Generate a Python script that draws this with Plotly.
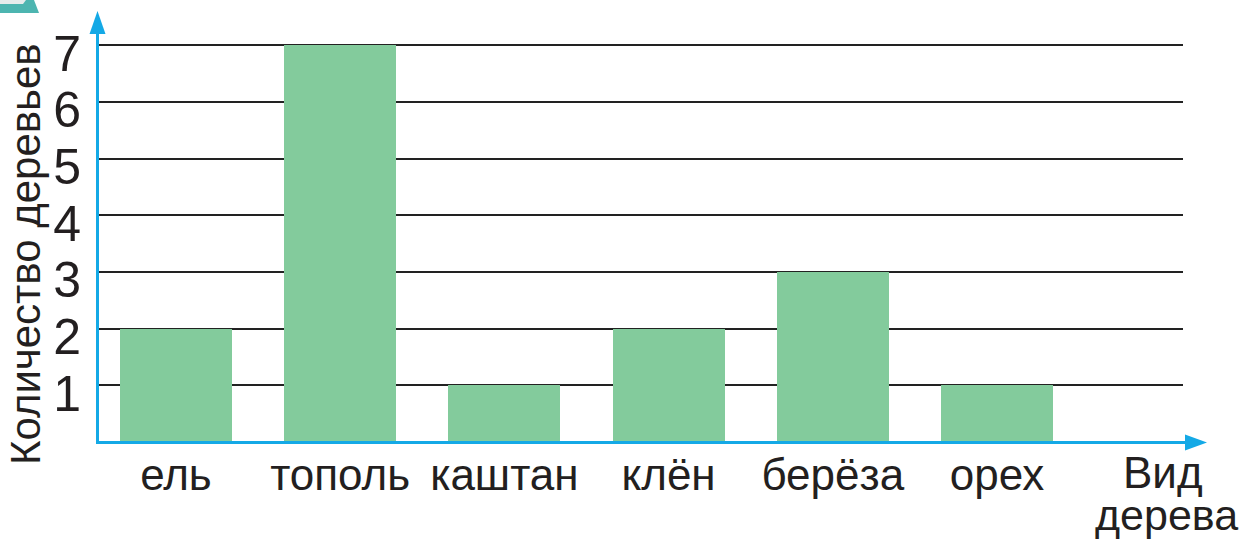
import plotly.graph_objects as go

# Tree survey: number of trees of each kind
tree_kinds = ["ель", "тополь", "каштан", "клён", "берёза", "орех"]
tree_counts = [2, 7, 1, 2, 3, 1]
y_ticks = [1, 2, 3, 4, 5, 6, 7]

BAR_COLOR = "#83CB9C"
AXIS_BLUE = "#14A9E6"
TEXT = "#231F20"
FONT = "Liberation Sans, Arial, sans-serif"

W, H = 1240, 542
L, R, T, B = 97, 57, 12, 100
PW, PH = W - L - R, H - T - B


def px(x):
    return (x - L) / PW


def py(y):
    return (H - B - y) / PH


fig = go.Figure(
    go.Bar(
        x=tree_kinds,
        y=tree_counts,
        width=0.682,
        marker=dict(color=BAR_COLOR, line=dict(width=0)),
        hoverinfo="skip",
    )
)

shapes = [
    # small teal tab in the corner
    dict(type="path", xref="paper", yref="paper",
         path=f"M {px(0)} {py(0)} L {px(34)} {py(0)} L {px(39)} {py(13)} L {px(0)} {py(13)} Z",
         fillcolor="#4DB5B0", line=dict(width=0), layer="above"),
    dict(type="path", xref="paper", yref="paper",
         path=f"M {px(0)} {py(0)} L {px(26)} {py(0)} L {px(23)} {py(4)} L {px(0)} {py(4)} Z",
         fillcolor="#E6ECEC", line=dict(width=0), layer="above"),
    # vertical axis with arrow
    dict(type="line", xref="paper", yref="paper",
         x0=px(97.5), x1=px(97.5), y0=py(443.5), y1=py(30),
         line=dict(color=AXIS_BLUE, width=3), layer="above"),
    dict(type="path", xref="paper", yref="paper",
         path=f"M {px(97.5)} {py(11)} L {px(105.5)} {py(34)} L {px(89.5)} {py(34)} Z",
         fillcolor=AXIS_BLUE, line=dict(width=0), layer="above"),
    # horizontal axis with arrow
    dict(type="line", xref="paper", yref="paper",
         x0=px(96), x1=px(1190), y0=py(442.5), y1=py(442.5),
         line=dict(color=AXIS_BLUE, width=3), layer="above"),
    dict(type="path", xref="paper", yref="paper",
         path=f"M {px(1207)} {py(442.5)} L {px(1185)} {py(434.5)} L {px(1185)} {py(450.5)} Z",
         fillcolor=AXIS_BLUE, line=dict(width=0), layer="above"),
]

annotations = [
    dict(text="Количество деревьев", textangle=-90, xref="paper", yref="paper",
         x=px(25), y=py(254), xanchor="center", yanchor="middle", showarrow=False,
         font=dict(family=FONT, size=42, color=TEXT)),
    dict(text="Вид", xref="paper", yref="paper",
         x=px(1163), y=py(446), xanchor="center", yanchor="top", showarrow=False,
         font=dict(family=FONT, size=44, color=TEXT)),
    dict(text="дерева", xref="paper", yref="paper",
         x=px(1166), y=py(489), xanchor="center", yanchor="top", showarrow=False,
         font=dict(family=FONT, size=43, color=TEXT)),
]

fig.update_layout(
    width=W, height=H,
    margin=dict(l=L, r=R, t=T, b=B, pad=0),
    paper_bgcolor="white", plot_bgcolor="white",
    showlegend=False,
    bargap=0,
    font=dict(family=FONT, color=TEXT),
    shapes=shapes,
    annotations=annotations,
    xaxis=dict(
        type="category", categoryorder="array", categoryarray=tree_kinds,
        range=[-0.481, -0.481 + PW / 164.2],
        showgrid=False, zeroline=False, showline=False, ticks="",
        tickfont=dict(family=FONT, size=44, color=TEXT),
        ticklabelstandoff=3,
    ),
    yaxis=dict(
        range=[0, PH / 56.7],
        tickmode="array", tickvals=y_ticks, ticktext=[str(v) for v in y_ticks],
        showgrid=True, gridcolor="#222222", gridwidth=1.5,
        zeroline=False, showline=False, ticks="",
        tickfont=dict(family=FONT, size=50, color=TEXT),
        ticklabelstandoff=15, ticklabelshift=8,
    ),
)

fig.write_html("out.html")
